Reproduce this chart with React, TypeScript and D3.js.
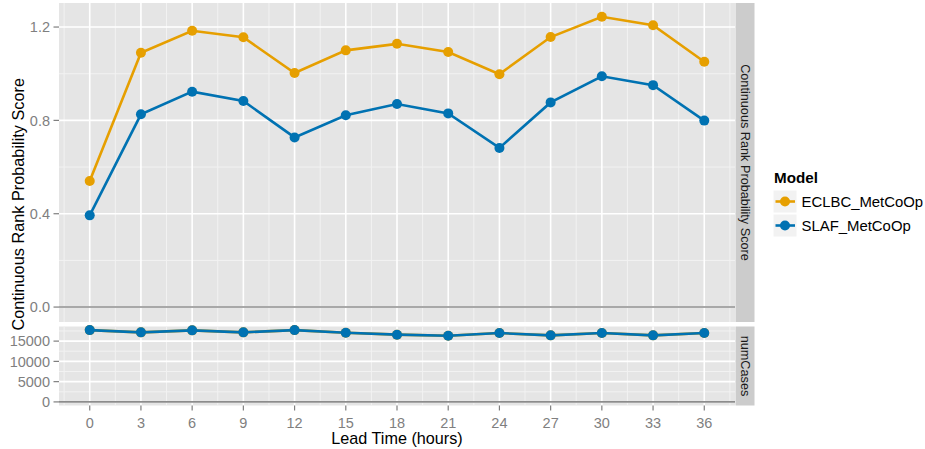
import React from "react";
import * as d3 from "d3";

const leadTimes = [0, 3, 6, 9, 12, 15, 18, 21, 24, 27, 30, 33, 36];
const seriesNames = ["ECLBC_MetCoOp", "SLAF_MetCoOp"];
const seriesColors = ["#E69F00", "#0072B2"];
const crpsECLBC = [0.54, 1.09, 1.184, 1.156, 1.003, 1.1, 1.128, 1.093, 0.998, 1.157, 1.244, 1.208, 1.051];
const crpsSLAF = [0.393, 0.826, 0.923, 0.883, 0.727, 0.822, 0.87, 0.83, 0.682, 0.877, 0.989, 0.951, 0.799];
const numCases = [17720, 17160, 17650, 17160, 17720, 17080, 16590, 16340, 16990, 16420, 17000, 16420, 16990];
const crpsTicks = [0.0, 0.4, 0.8, 1.2];
const crpsMinor = [0.2, 0.6, 1.0];
const caseTicks = [0, 5000, 10000, 15000];
const caseMinor = [2500, 7500, 12500, 17500];
const xMinor = [-1.5, 1.5, 4.5, 7.5, 10.5, 13.5, 16.5, 19.5, 22.5, 25.5, 28.5, 31.5, 34.5, 37.5];

const FONT = "'Liberation Sans', Arial, Helvetica, sans-serif";

export default function App() {
  const left = 59, right = 735;
  const x = d3.scaleLinear().domain([-1.8, 37.8]).range([left, right]);

  const topY0 = 3, topY1 = 322;
  const yTop = d3.scaleLinear().domain([-0.064, 1.303]).range([topY1, topY0]);
  const botY0 = 326.5, botY1 = 405.5;
  const maxCases = d3.max(numCases) as number;
  const yBot = d3.scaleLinear().domain([-0.05 * maxCases, 1.05 * maxCases]).range([botY1, botY0]);

  const crpsSeries = [crpsECLBC, crpsSLAF];
  const caseSeries = [numCases, numCases];

  const panel = (
    y: d3.ScaleLinear<number, number>,
    y0: number,
    y1: number,
    major: number[],
    minor: number[],
    series: number[][],
    fmt: (v: number) => string,
    strip: string,
    key: string
  ) => {
    const line = (vals: number[]) =>
      d3.line<number>().x((_, i) => x(leadTimes[i])).y((v) => y(v))(vals) as string;
    return (
      <g key={key}>
        <rect x={left} y={y0} width={right - left} height={y1 - y0} fill="#E5E5E5" />
        {minor.map((v) => (
          <line key={"ym" + v} x1={left} x2={right} y1={y(v)} y2={y(v)} stroke="#F2F2F2" strokeWidth={1} />
        ))}
        {xMinor.map((v) => (
          <line key={"xm" + v} x1={x(v)} x2={x(v)} y1={y0} y2={y1} stroke="#F2F2F2" strokeWidth={1} />
        ))}
        {major.map((v) => (
          <line key={"yM" + v} x1={left} x2={right} y1={y(v)} y2={y(v)} stroke="#FFFFFF" strokeWidth={1.6} />
        ))}
        {leadTimes.map((v) => (
          <line key={"xM" + v} x1={x(v)} x2={x(v)} y1={y0} y2={y1} stroke="#FFFFFF" strokeWidth={1.6} />
        ))}
        <line x1={left} x2={right} y1={y(0)} y2={y(0)} stroke="#8C8C8C" strokeWidth={1.6} />
        {series.map((vals, si) => (
          <g key={"s" + si}>
            <path d={line(vals)} fill="none" stroke={seriesColors[si]} strokeWidth={2.6} />
            {vals.map((v, i) => (
              <circle key={i} cx={x(leadTimes[i])} cy={y(v)} r={5} fill={seriesColors[si]} />
            ))}
          </g>
        ))}
        {major.map((v) => (
          <g key={"t" + v}>
            <line x1={53.5} x2={left} y1={y(v)} y2={y(v)} stroke="#7F7F7F" strokeWidth={1.2} />
            <text x={50} y={y(v)} dy="0.36em" textAnchor="end" fontSize={14.5} fill="#7F7F7F" fontFamily={FONT}>
              {fmt(v)}
            </text>
          </g>
        ))}
        <rect x={right + 0.5} y={y0} width={19} height={y1 - y0} fill="#CCCCCC" />
        <text
          transform={`translate(${right + 10},${(y0 + y1) / 2}) rotate(90)`}
          textAnchor="middle"
          dy="0.35em"
          fontSize={12.7}
          fill="#1A1A1A"
          fontFamily={FONT}
        >
          {strip}
        </text>
      </g>
    );
  };

  return (
    <svg width={925} height={449} style={{ position: "absolute", left: 0, top: 0, background: "#fff" }}>
      <rect x={0} y={0} width={925} height={449} fill="#FFFFFF" />
      {panel(yTop, topY0, topY1, crpsTicks, crpsMinor, crpsSeries, d3.format(".1f"), "Continuous Rank Probability Score", "top")}
      {panel(yBot, botY0, botY1, caseTicks, caseMinor, caseSeries, (v) => String(v), "numCases", "bot")}
      {leadTimes.map((v) => (
        <g key={"xt" + v}>
          <line x1={x(v)} x2={x(v)} y1={botY1} y2={botY1 + 5} stroke="#7F7F7F" strokeWidth={1.2} />
          <text x={x(v)} y={427.5} textAnchor="middle" fontSize={14.5} fill="#7F7F7F" fontFamily={FONT}>
            {v}
          </text>
        </g>
      ))}
      <text x={(left + right) / 2} y={444} textAnchor="middle" fontSize={16.2} fill="#000" fontFamily={FONT}>
        Lead Time (hours)
      </text>
      <text
        transform={`translate(24,${(topY0 + botY1) / 2}) rotate(-90)`}
        textAnchor="middle"
        fontSize={16.3}
        fill="#000"
        fontFamily={FONT}
      >
        Continuous Rank Probability Score
      </text>
      <text x={774} y={183} fontSize={15.2} fontWeight="bold" fill="#000" fontFamily={FONT}>
        Model
      </text>
      {seriesNames.map((name, i) => {
        const by = 190 + i * 24;
        const cy = by + 11.5;
        return (
          <g key={name}>
            <rect x={773} y={by} width={24} height={23} fill="#F2F2F2" stroke="#FFFFFF" strokeWidth={1} />
            <line x1={775.5} x2={795} y1={cy} y2={cy} stroke={seriesColors[i]} strokeWidth={2.6} />
            <circle cx={785} cy={cy} r={5} fill={seriesColors[i]} />
            <text x={801.5} y={cy} dy="0.36em" fontSize={14.9} fill="#000" fontFamily={FONT}>
              {name}
            </text>
          </g>
        );
      })}
    </svg>
  );
}
